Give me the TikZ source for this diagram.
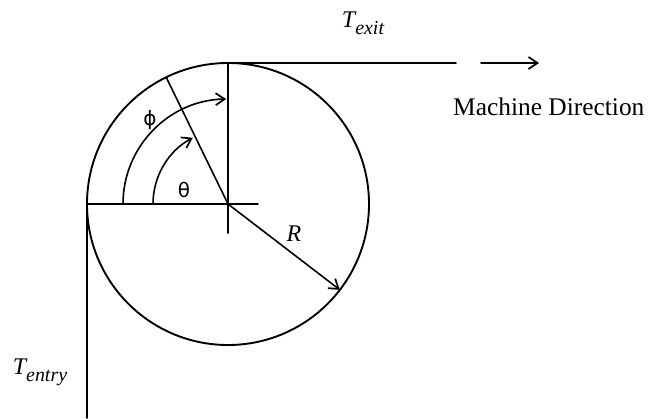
\documentclass[tikz,border=0pt]{standalone}
\usepackage{fontspec}
\setmainfont{Liberation Serif}
\newfontfamily\greekfont{DejaVu Sans}
\usetikzlibrary{arrows.meta,calc}
\begin{document}
\begin{tikzpicture}[x=1bp,y=1bp,
  ln/.style={line width=1.6bp,line cap=round},
  tip/.style={-{Straight Barb[length=9bp,width=12bp,line width=1.7bp]}},
  lab/.style={inner sep=0pt,font=\fontsize{24}{24}\selectfont}]
\useasboundingbox (0,0) rectangle (648,418);
\coordinate (C) at (228,214);
\coordinate (L) at (87,214);
\coordinate (Tp) at (228,355);
\coordinate (Bot) at (87,0);
\coordinate (TopEnd) at (456,355);
\coordinate (A1) at (481,355);
\coordinate (A2) at (539,355);
\coordinate (HEnd) at (258,214);
\coordinate (VEnd) at (228,185);
\coordinate (P) at ($(C)+(116:141)$);
\coordinate (Rr) at ($(C)+(-37.5:141)$);
\draw[ln,line width=1.9bp] (C) circle[radius=141];
\draw[ln] (L) -- (Bot);
\draw[ln] (Tp) -- (TopEnd);
\draw[ln,tip] (A1) -- (A2);
\draw[ln] (L) -- (HEnd);
\draw[ln] (Tp) -- (VEnd);
\draw[ln] (C) -- (P);
\draw[ln,tip] (C) -- (Rr);
\draw[ln,tip] ([shift={(180:75)}]C) arc[start angle=180,end angle=118,radius=75];
\draw[ln,tip] ([shift={(180:105)}]C) arc[start angle=180,end angle=91,radius=105];
\node[lab] (th) at (184,228) {\greekfont\fontsize{20}{20}\selectfont θ};
\node[lab] (ph) at (150,298) {\greekfont\fontsize{20}{20}\selectfont ϕ};
\node[lab] (R) at (294,184) {\itshape R};
\node[lab,anchor=base west,font=\fontsize{25.5}{25.5}\selectfont] (md) at (453,303) {Machine Direction};
\node[lab] (tx) at (363,395) {\itshape T\raisebox{-0.3em}{\fontsize{20}{20}\selectfont exit}};
\node[lab] (te) at (40,46) {\itshape T\raisebox{-0.3em}{\fontsize{20}{20}\selectfont entry}};
\end{tikzpicture}
\end{document}
